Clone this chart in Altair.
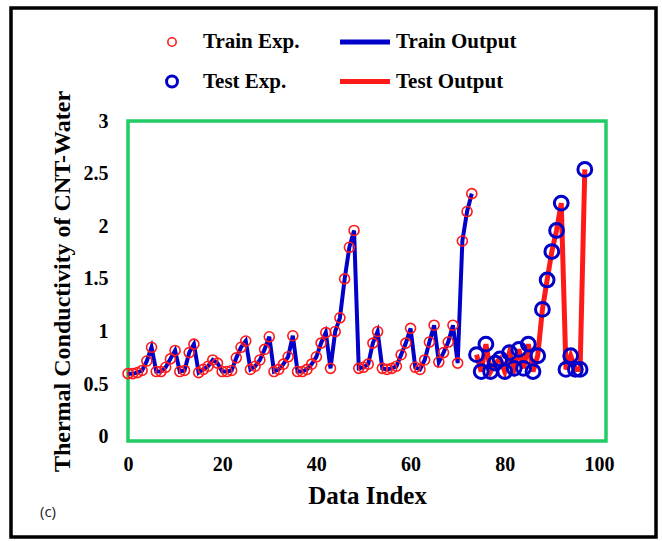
import altair as alt
import pandas as pd

# Thermal conductivity of CNT-water: experimental points and model output
train_index = list(range(0, 74))
train_values = [
    0.60, 0.60, 0.61, 0.63, 0.72, 0.85, 0.62, 0.62, 0.66, 0.74,
    0.82, 0.62, 0.63, 0.80, 0.88, 0.61, 0.64, 0.67, 0.73, 0.70,
    0.62, 0.62, 0.63, 0.75, 0.85, 0.91, 0.64, 0.67, 0.73, 0.83,
    0.95, 0.62, 0.64, 0.69, 0.76, 0.96, 0.62, 0.62, 0.64, 0.69,
    0.76, 0.89, 0.99, 0.65, 1.00, 1.13, 1.50, 1.80, 1.96, 0.65,
    0.66, 0.69, 0.89, 1.00, 0.65, 0.64, 0.65, 0.67, 0.78, 0.89,
    1.03, 0.66, 0.64, 0.73, 0.90, 1.06, 0.71, 0.80, 0.90, 1.06,
    0.70, 1.86, 2.14, 2.31,
]
test_index = list(range(74, 98))
test_values = [
    0.78, 0.62, 0.88, 0.62, 0.70, 0.74, 0.62, 0.80, 0.65, 0.83,
    0.65, 0.88, 0.62, 0.77, 1.21, 1.49, 1.76, 1.96, 2.22, 0.64,
    0.77, 0.64, 0.64, 2.54,
]

x_ticks = [0, 20, 40, 60, 80, 100]
y_ticks = [0, 0.5, 1, 1.5, 2, 2.5, 3]
legend_labels = ["Train Exp.", "Train Output", "Test Exp.", "Test Output"]

RED = "#ff1a1a"
BLUE = "#0000c8"
SERIF = "Liberation Serif"

train = pd.DataFrame({"idx": train_index, "val": train_values})
test = pd.DataFrame({"idx": test_index, "val": test_values})

x_enc = alt.X(
    "idx:Q",
    scale=alt.Scale(domain=[0, 101.5], nice=False, zero=False),
    axis=alt.Axis(
        values=x_ticks, title="Data Index", grid=False, domain=False,
        ticks=False, tickSize=0, labelPadding=13, titlePadding=9,
        labelFlush=False,
        labelFont=SERIF, labelFontWeight="bold", labelFontSize=20,
        titleFont=SERIF, titleFontWeight="bold", titleFontSize=25,
        labelColor="black", titleColor="black",
    ),
)
y_enc = alt.Y(
    "val:Q",
    scale=alt.Scale(domain=[-0.04, 3.0], nice=False, zero=False),
    axis=alt.Axis(
        values=y_ticks, format="~g", title="Thermal Conductivity of CNT-Water",
        grid=False, domain=False, ticks=False, tickSize=0, labelPadding=20,
        labelFlush=False, titlePadding=9, labelFont=SERIF, labelFontWeight="bold",
        labelFontSize=20, titleFont=SERIF, titleFontWeight="bold",
        titleFontSize=24, labelColor="black", titleColor="black",
    ),
)

train_line = alt.Chart(train).mark_line(color=BLUE, strokeWidth=4).encode(x=x_enc, y=y_enc)
test_line = alt.Chart(test).mark_line(color=RED, strokeWidth=5).encode(x="idx:Q", y="val:Q")
train_pts = alt.Chart(train).mark_point(
    shape="circle", filled=False, color=RED, size=100, strokeWidth=1.6, opacity=1
).encode(x="idx:Q", y="val:Q")
test_pts = alt.Chart(test).mark_point(
    shape="circle", filled=False, color=BLUE, size=190, strokeWidth=3, opacity=1
).encode(x="idx:Q", y="val:Q")

# Legend drawn above the plot area
one = pd.DataFrame({"k": [0]})
row1, row2 = -79, -39.5
leg_train_pt = alt.Chart(one).mark_point(
    shape="circle", filled=False, color=RED, size=70, strokeWidth=1.6, opacity=1
).encode(x=alt.value(44), y=alt.value(row1))
leg_test_pt = alt.Chart(one).mark_point(
    shape="circle", filled=False, color=BLUE, size=120, strokeWidth=3, opacity=1
).encode(x=alt.value(44), y=alt.value(row2))
leg_train_line = alt.Chart(one).mark_rule(color=BLUE, strokeWidth=5).encode(
    x=alt.value(212), x2=alt.value(262), y=alt.value(row1))
leg_test_line = alt.Chart(one).mark_rule(color=RED, strokeWidth=5).encode(
    x=alt.value(212), x2=alt.value(262), y=alt.value(row2))

def leg_text(label, xpos, ypos):
    return alt.Chart(one).mark_text(
        align="left", baseline="middle", font=SERIF, fontWeight="bold",
        fontSize=21, color="black", text=label,
    ).encode(x=alt.value(xpos), y=alt.value(ypos))

leg_texts = [
    leg_text(legend_labels[0], 75, row1),
    leg_text(legend_labels[1], 268, row1),
    leg_text(legend_labels[2], 75, row2),
    leg_text(legend_labels[3], 268, row2),
]

panel_tag = alt.Chart(one).mark_text(
    align="center", baseline="middle", font="Open Sans", fontSize=15,
    color="#222222", text="(c)",
).encode(x=alt.value(-80), y=alt.value(391))

outer_frame = alt.Chart(one).mark_rect(
    filled=False, stroke="black", strokeWidth=3.5
).encode(x=alt.value(-117), x2=alt.value(528), y=alt.value(-113), y2=alt.value(416))

chart = alt.layer(
    train_line, test_line, train_pts, test_pts,
    leg_train_pt, leg_test_pt, leg_train_line, leg_test_line, *leg_texts,
    panel_tag, outer_frame,
).properties(
    width=478, height=320,
    autosize=alt.AutoSizeParams(type="none"),
    padding={"left": 128, "top": 121, "right": 56, "bottom": 100},
).configure(
    background="white",
    view=alt.ViewConfig(stroke="#22cc66", strokeWidth=3.5),
)

chart.save("out.html", embed_options={"renderer": "svg", "actions": False})
